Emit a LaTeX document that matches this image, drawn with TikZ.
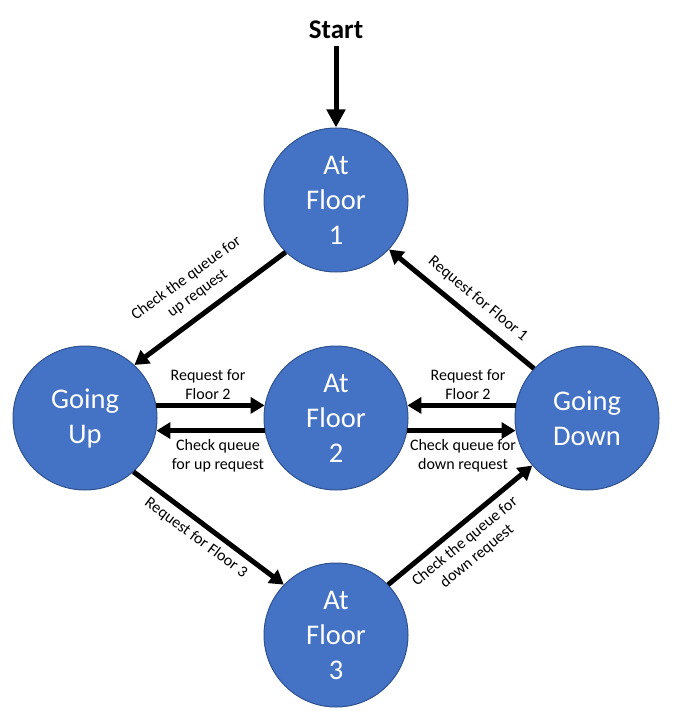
\documentclass[tikz,border=0pt]{standalone}
\usepackage{fontspec}
\setmainfont{Carlito}
\usepackage{xcolor}
\usetikzlibrary{arrows.meta}

\definecolor{stateblue}{HTML}{4472C4}
\definecolor{stateedge}{HTML}{2F528F}

\tikzset{
  state/.style={draw=stateedge, line width=1pt, circle, fill=stateblue, text=white,
    minimum size=144pt, inner sep=0pt, align=center, font=\fontsize{28.5}{35}\selectfont},
  move/.style={line width=5pt, -{Triangle[length=14pt,width=16pt]}},
  lbl/.style={align=center, font=\fontsize{16}{19}\selectfont, inner sep=0pt}
}

\begin{document}
\begin{tikzpicture}[x=1pt, y=-1pt]
\useasboundingbox (0,0) rectangle (681,722);

\node[font=\fontsize{27}{30}\selectfont\bfseries] (start) at (336,30) {Start};
\node[state] (floor1) at (336,200) {At\\Floor\\1};
\node[state] (up) at (85,418) {Going\\Up};
\node[state] (floor2) at (336,418) {At\\Floor\\2};
\node[state] (down) at (587,418) {Going\\Down};
\node[state] (floor3) at (336,635) {At\\Floor\\3};

\draw[line width=5pt, -{Triangle[length=18pt,width=18pt]}] (start.south) ++(0,4) coordinate (s0) (s0) -- (floor1.north);

\draw[move] (floor1.226) -- (up.47);
\draw[move] (down.137) -- (floor1.317);
\draw[move] (up.312) -- (floor3.136);
\draw[move] (floor3.44) -- (down.221);

\draw[move] (up.10) -- (floor2.170);
\draw[move] (floor2.190) -- (up.350);
\draw[move] (down.170) -- (floor2.10);
\draw[move] (floor2.350) -- (down.190);

% labels
\node[lbl, rotate=36] (l1) at (192,286) {Check the queue for\\up request};
\node[lbl, rotate=-39.6] (l2) at (478,299) {Request for Floor 1};
\node[lbl, rotate=-36.7] (l3) at (196,538) {Request for Floor 3};
\node[lbl, rotate=39.5] (l4) at (471,549) {Check the queue for\\down request};
\node[lbl] (l5) at (208,385) {Request for\\Floor 2};
\node[lbl] (l6) at (218,456) {Check queue\\for up request};
\node[lbl] (l7) at (468,385) {Request for\\Floor 2};
\node[lbl] (l8) at (463,456) {Check queue for\\down request};
\end{tikzpicture}
\end{document}
